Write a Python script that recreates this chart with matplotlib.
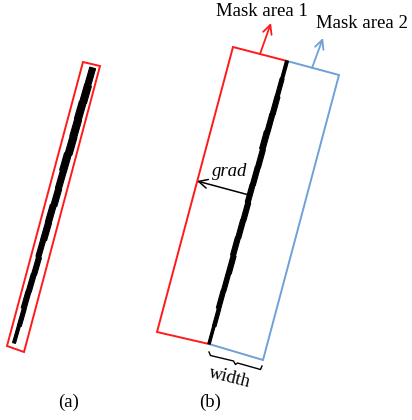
import matplotlib
matplotlib.use("Agg")
import matplotlib.pyplot as plt
from matplotlib.patches import Polygon
import numpy as np

plt.rcParams['font.family'] = ['Liberation Serif', 'DejaVu Serif']

# Geometry (pixel space, y downward)
rect_a = [(83, 62), (100, 66), (24, 352), (7, 346)]
stroke_a = [(14, 343), (93, 68)]
# stroke thickness (px) from bottom to top, and sideways offsets (px)
widths_a = [3, 4, 5, 5, 5, 5, 6, 6, 6, 6, 7, 7, 7, 7, 7, 6]
shifts_a = [0, -0.4, 0.3, 0, -0.4, 0.4, 0, 0.3, -0.4, 0, 0.4, -0.3, 0, 0.4, 0, 0.3]

rect_b1 = [(233, 47), (287, 61), (209, 344), (157, 332)]
rect_b2 = [(287, 61), (339, 75), (263, 360), (209, 344)]
stroke_b = [(209, 344), (287, 61)]
widths_b = [2.5, 3.5, 4.5, 4.5, 5, 5, 5, 5, 5, 5, 5, 5.5, 5, 5, 4, 3]
shifts_b = [0, -0.3, 0.3, 0, -0.3, 0.4, 0, -0.3, 0.3, 0, -0.3, 0.4, 0, -0.3, 0, 0]

RED = '#ff1a1a'
BLUE = '#6fa0d8'
FS = 13.5

fig = plt.figure(figsize=(4.12, 4.20), dpi=100)
ax = fig.add_axes([0, 0, 1, 1])
ax.set_xlim(0, 412)
ax.set_ylim(420, 0)
ax.axis('off')


def draw_stroke(p0, p1, widths, shifts):
    p0 = np.array(p0, float); p1 = np.array(p1, float)
    d = p1 - p0
    L = np.hypot(*d)
    u = d / L
    n = np.array([u[1], -u[0]])
    k = len(widths)
    left, right = [], []
    for i, (w, s) in enumerate(zip(widths, shifts)):
        a = p0 + d * i / k
        b = p0 + d * (i + 1) / k
        lo = n * (s - w / 2)
        hi = n * (s + w / 2)
        left += [a + lo, b + lo]
        right += [a + hi, b + hi]
    pts = np.array(left + right[::-1])
    ax.add_patch(Polygon(pts, closed=True, facecolor='black', edgecolor='black',
                         lw=0.8, joinstyle='miter'))


def draw_rect(pts, color):
    ax.add_patch(Polygon(pts, closed=True, fill=False, edgecolor=color, lw=1.4))

# Panel (a)
draw_rect(rect_a, RED)
draw_stroke(stroke_a[0], stroke_a[1], widths_a, shifts_a)

# Panel (b)
draw_rect(rect_b1, RED)
draw_rect(rect_b2, BLUE)
draw_stroke(stroke_b[0], stroke_b[1], widths_b, shifts_b)

# Mask area arrows
arrow_kw = dict(lw=1.3, mutation_scale=16, shrinkA=0, shrinkB=0)
ax.annotate('', xy=(271, 23), xytext=(260, 54),
            arrowprops=dict(arrowstyle='->', color=RED, **arrow_kw))
ax.annotate('', xy=(323, 38), xytext=(312, 68),
            arrowprops=dict(arrowstyle='->', color=BLUE, **arrow_kw))
ax.text(262, 11, 'Mask area 1', ha='center', va='center', fontsize=FS)
ax.text(362, 23, 'Mask area 2', ha='center', va='center', fontsize=FS)

# grad arrow
ax.annotate('', xy=(197, 181), xytext=(249, 195),
            arrowprops=dict(arrowstyle='->', color='black', lw=1.1, mutation_scale=16, shrinkA=0, shrinkB=0))
ax.text(230, 172, 'grad', ha='center', va='center', fontsize=FS, style='italic')

# width brace
bx0, by0 = 209, 352
bx1, by1 = 262, 367
mx = (bx0 + bx1) / 2
ax.plot([bx0, bx0 + 1.5, mx - 2, mx, mx + 2, bx1 - 1.5, bx1],
        [by0, by0 + 3.5, by0 + 9, by0 + 12.5, by0 + 11, by1 + 2.5, by1 - 1],
        color='black', lw=1.0)
ax.text(230, 378, 'width', ha='center', va='center', fontsize=FS, rotation=-14)

# panel labels
ax.text(68.5, 402, '(a)', ha='center', va='center', fontsize=FS)
ax.text(210, 402, '(b)', ha='center', va='center', fontsize=FS)

fig.savefig('out.png', dpi=100)
